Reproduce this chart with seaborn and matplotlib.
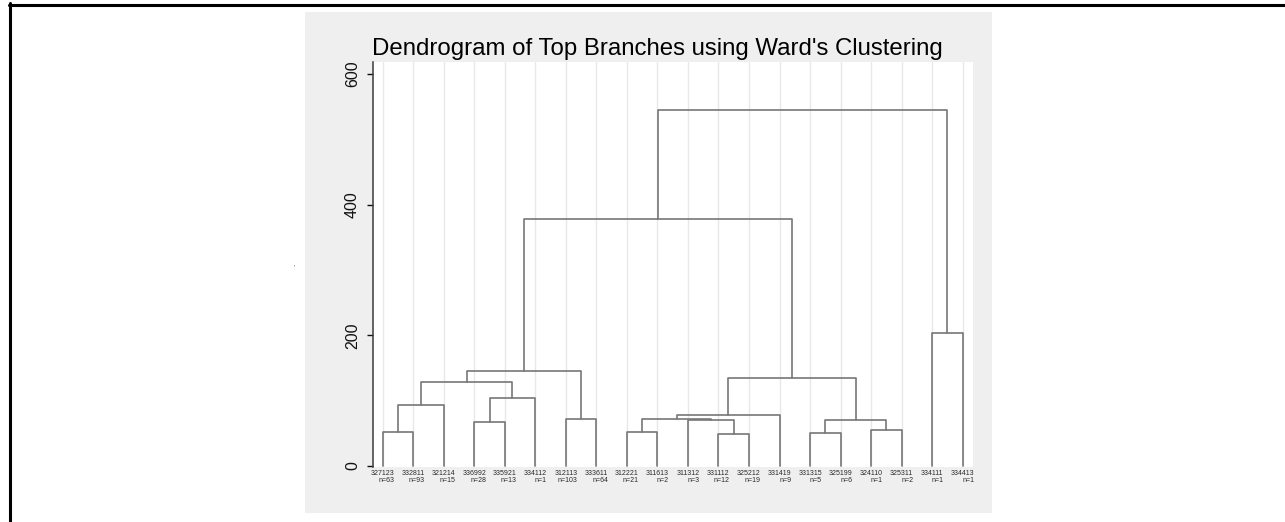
import numpy as np
import pandas as pd
import matplotlib
matplotlib.use("Agg")
import matplotlib.pyplot as plt
from matplotlib.patches import Rectangle
from matplotlib.lines import Line2D
import seaborn as sns

# Leaves of the dendrogram (left to right), with their cluster sizes
leaf_codes = ["327123", "332811", "321214", "336992", "335921", "334112",
              "312113", "333611", "312221", "311613", "311312", "331112",
              "325212", "331419", "331315", "325199", "324110", "325311",
              "334111", "334413"]
leaf_counts = [63, 93, 15, 28, 13, 1, 103, 64, 21, 2, 3, 12, 19, 9, 5, 6, 1, 2, 1, 1]

# Ward merges: new node name, left child, right child, dissimilarity
# (children are leaf codes or earlier node names)
merge_names = ["A", "B", "C", "D", "E", "F", "G", "H", "I", "J", "K", "L",
               "M", "N", "O", "P", "Q", "R", "S"]
merge_left = ["327123", "A", "336992", "C", "B", "312113", "E", "312221",
              "331112", "311312", "H", "K", "331315", "324110", "M", "L",
              "G", "334111", "Q"]
merge_right = ["332811", "321214", "335921", "334112", "D", "333611", "F",
               "311613", "325212", "I", "J", "331419", "325199", "325311",
               "N", "O", "P", "334413", "R"]
merge_heights = [52.4, 93, 67, 104, 128.7, 71.8, 145, 52.4, 49, 70.2, 71.8,
                 77.4, 49.8, 54.4, 70.7, 134.8, 377.6, 203, 545]

y_ticks = [0, 200, 400, 600]

# Build the bracket segments of every merge
pos = {code: i + 1 for i, code in enumerate(leaf_codes)}
hgt = {code: 0.0 for code in leaf_codes}
rows = []
for name, a, b, h in zip(merge_names, merge_left, merge_right, merge_heights):
    xa, xb = pos[a], pos[b]
    for px, py in [(xa, hgt[a]), (xa, h), (xb, h), (xb, hgt[b])]:
        rows.append({"node": name, "x": px, "y": py})
    pos[name] = (xa + xb) / 2
    hgt[name] = h
segments = pd.DataFrame(rows)

sns.set_style("white")
plt.rcParams["font.family"] = ["Liberation Sans", "DejaVu Sans"]

W, H = 1285, 522
fig = plt.figure(figsize=(W / 100, H / 100), dpi=100, facecolor="white")

# light grey graph region behind the plot
fig.patches.append(Rectangle((305 / W, 1 - 513 / H), 687 / W, 501 / H,
                             transform=fig.transFigure, facecolor="#efefef",
                             edgecolor="none", zorder=-5))
# black frame on the left and top
fig.lines.append(Line2D([9.5 / W, 9.5 / W], [0, 1 - 3 / H], transform=fig.transFigure,
                        color="black", lw=2.2))
fig.lines.append(Line2D([8.5 / W, 1], [1 - 4.5 / H, 1 - 4.5 / H], transform=fig.transFigure,
                        color="black", lw=2.2))

ax = fig.add_axes([373 / W, 1 - 467 / H, 600 / W, 405 / H])
ax.set_zorder(2)
ax.set_facecolor("white")

sns.lineplot(data=segments, x="x", y="y", units="node", estimator=None, sort=False,
             color="#777777", lw=1.2, ax=ax, legend=False)

ax.set_xlim(0.68, 20.34)
ax.set_ylim(-1.5, 618)

ax.set_xticks(range(1, len(leaf_codes) + 1))
ax.set_xticklabels([f"{c}\nn={n}" for c, n in zip(leaf_codes, leaf_counts)],
                   fontsize=5.0, linespacing=0.95)
for lab in ax.get_xticklabels():
    lab.set_multialignment("right")
ax.tick_params(axis="x", length=0, pad=2.5, colors="#2a2a2a")
ax.grid(axis="x", color="#e8e8e8", lw=1.0)
ax.grid(axis="y", visible=False)
ax.set_axisbelow(True)

ax.set_yticks(y_ticks)
ax.set_yticklabels([str(v) for v in y_ticks], rotation=90, va="center", fontsize=11.5)
ax.tick_params(axis="y", length=4.3, width=1.0, pad=5, colors="#111111", left=True)

for side in ["top", "right", "bottom"]:
    ax.spines[side].set_visible(False)
ax.spines["left"].set_color("#3a3a3a")
ax.spines["left"].set_linewidth(1.1)

ax.set_xlabel("")
ax.set_ylabel(".", fontsize=6, rotation=90)
ax.yaxis.set_label_coords((297 - 373) / 600, 0.5)

fig.text(657.5 / W, 1 - 55 / H, "Dendrogram of Top Branches using Ward's Clustering",
         ha="center", va="baseline", fontsize=17.3, color="black", zorder=3)

fig.savefig("out.png", dpi=100, facecolor="white")
